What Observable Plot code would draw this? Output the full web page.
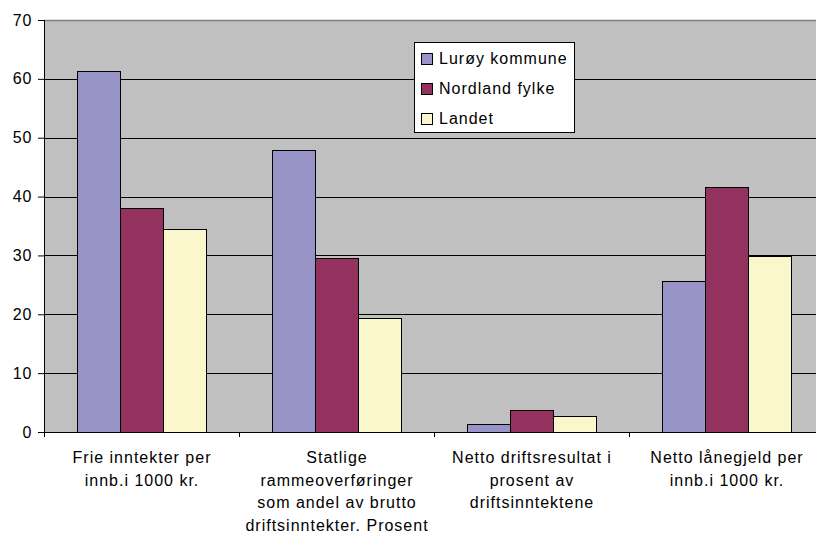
<!DOCTYPE html>
<html>
<head>
<meta charset="utf-8">
<script src="https://cdn.jsdelivr.net/npm/d3@7"></script>
<script src="https://cdn.jsdelivr.net/npm/@observablehq/plot@0.6"></script>
<style>
  html, body { margin: 0; padding: 0; background: #fff; overflow: hidden; }
  #wrap { position: relative; width: 816px; height: 540px; overflow: hidden; }
  #wrap svg { max-width: none !important; display: block; }
  #legend {
    position: absolute; left: 414px; top: 42px; width: 159px; height: 89px;
    background: #fff; border: 1px solid #000;
    font-family: "Liberation Sans", Arial, sans-serif; font-size: 16px; letter-spacing: 1px;
  }
  .item { position: absolute; left: 6px; height: 20px; display: flex; align-items: center; }
  .sw { width: 10px; height: 10px; border: 1px solid #000; margin-right: 6px; }
</style>
</head>
<body>
<div id="wrap"><div id="legend"></div></div>
<script>
const categories = [
  "Frie inntekter per\ninnb.i 1000 kr.",
  "Statlige\nrammeoverføringer\nsom andel av brutto\ndriftsinntekter. Prosent",
  "Netto driftsresultat i\nprosent av\ndriftsinntektene",
  "Netto lånegjeld per\ninnb.i 1000 kr."
];
const series = ["Lurøy kommune", "Nordland fylke", "Landet"];
const colors = ["#9894C8", "#93325F", "#FAF7CC"];
const luroy = [61.2, 47.8, 1.2, 25.5];
const nordland = [38.0, 29.5, 3.6, 41.5];
const landet = [34.4, 19.3, 2.7, 29.8];
const yTicks = [0, 10, 20, 30, 40, 50, 60, 70];

const valuesBySeries = [luroy, nordland, landet];
const data = [];
categories.forEach((c, ci) => series.forEach((s, si) => data.push({cat: c, series: s, value: valuesBySeries[si][ci]})));

const chart = Plot.plot({
  width: 824, height: 540,
  marginLeft: 44, marginRight: 0, marginTop: 20, marginBottom: 108,
  style: {fontFamily: "'Liberation Sans', Arial, sans-serif", fontSize: "16px", letterSpacing: "1px", color: "#000", background: "transparent", maxWidth: "none"},
  fx: {domain: categories, padding: 0, label: null},
  x: {domain: series, paddingInner: 0, paddingOuter: 0.76, axis: null},
  y: {domain: [0, 70], label: null},
  color: {domain: series, range: colors},
  marks: [
    Plot.frame({fill: "#C0C0C0", stroke: "none", shapeRendering: "crispEdges"}),
    Plot.gridY(yTicks.filter(t => t > 0 && t < 70), {stroke: "#000", strokeOpacity: 1, shapeRendering: "crispEdges"}),
    Plot.ruleY([70], {stroke: "#808080", strokeWidth: 1.5}),
    Plot.barY(data, {fx: "cat", x: "series", y: "value", fill: "series", stroke: "#000", strokeWidth: 1, shapeRendering: "crispEdges"}),
    Plot.ruleY([0], {stroke: "#000", shapeRendering: "crispEdges"}),
    Plot.axisY(yTicks, {tickSize: 6, tickPadding: 6, label: null}),
    Plot.axisFx({anchor: "bottom", tickSize: 0, tickPadding: 15, lineHeight: 1.4, label: null})
  ]
});

// category boundary ticks and left axis line, from the plot's own scales
const fx = chart.scale("fx"), y = chart.scale("y");
const svg = d3.select(chart.tagName.toLowerCase() === "svg" ? chart : chart.querySelector("svg"));
svg.style("max-width", "none");
const y0 = y.apply(0), yTop = y.apply(70);
const g = svg.append("g").attr("stroke", "#000").attr("shape-rendering", "crispEdges");
categories.forEach(c => {
  const xb = Math.round(fx.apply(c)) + 0.5;
  g.append("line").attr("x1", xb).attr("x2", xb).attr("y1", y0).attr("y2", y0 + 5);
});
const xl = Math.round(fx.apply(categories[0])) + 0.5;
g.append("line").attr("x1", xl).attr("x2", xl).attr("y1", yTop).attr("y2", y0);

document.getElementById("wrap").prepend(chart);

const legend = document.getElementById("legend");
series.forEach((s, i) => {
  const it = document.createElement("div");
  it.className = "item";
  it.style.top = (6 + i * 30) + "px";
  const sw = document.createElement("span");
  sw.className = "sw"; sw.style.background = colors[i];
  it.appendChild(sw);
  it.appendChild(document.createTextNode(s));
  legend.appendChild(it);
});
</script>
</body>
</html>
